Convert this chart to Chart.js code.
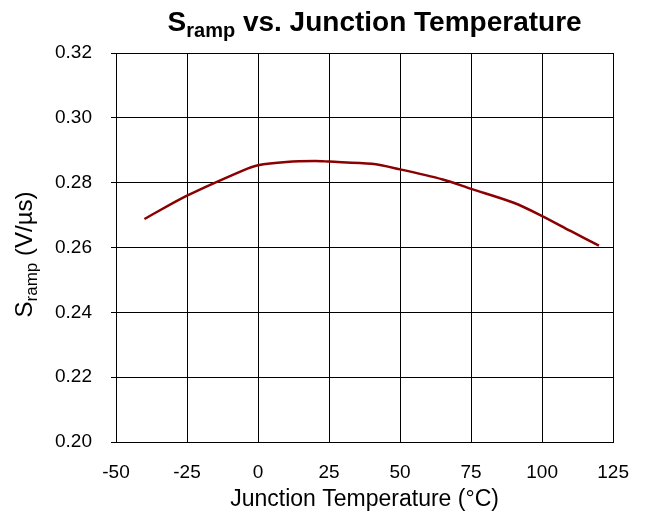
<!DOCTYPE html>
<html>
<head>
<meta charset="utf-8">
<script src="https://cdn.jsdelivr.net/npm/chart.js@4"></script>
<style>
  html, body { margin: 0; padding: 0; background: #fff; }
  #wrap { width: 648px; height: 518px; }
</style>
</head>
<body>
<div id="wrap"><canvas id="srampChart"></canvas></div>
<script>
// Data
const temperatures = [-40, -25, -5, 0, 10, 20, 25, 40, 50, 65, 75, 90, 100, 110, 120];
const srampValues = [0.2688, 0.2760, 0.2839, 0.2854, 0.2864, 0.2867, 0.2865, 0.2858, 0.2841, 0.2810, 0.2781, 0.2738, 0.2697, 0.2651, 0.2606];
const xTicks = [-50, -25, 0, 25, 50, 75, 100, 125];
const yTicks = [0.20, 0.22, 0.24, 0.26, 0.28, 0.30, 0.32];

const FONT = '"Liberation Sans", Arial, sans-serif';

// draws main text + subscript + rest, starting at x (left), baseline y
function drawSubText(ctx, x, y, main, sub, rest, size, subSize, weight) {
    ctx.font = weight + ' ' + size + 'px ' + FONT;
    ctx.fillText(main, x, y);
    let w = ctx.measureText(main).width;
    ctx.font = weight + ' ' + subSize + 'px ' + FONT;
    ctx.fillText(sub, x + w, y + size * 0.2);
    w += ctx.measureText(sub).width;
    ctx.font = weight + ' ' + size + 'px ' + FONT;
    ctx.fillText(rest, x + w, y);
    return w + ctx.measureText(rest).width;
}

function measureSubText(ctx, main, sub, rest, size, subSize, weight) {
    ctx.font = weight + ' ' + size + 'px ' + FONT;
    let w = ctx.measureText(main).width + ctx.measureText(rest).width;
    ctx.font = weight + ' ' + subSize + 'px ' + FONT;
    return w + ctx.measureText(sub).width;
}

const labelsPlugin = {
    id: 'labelsPlugin',
    afterDraw(chart) {
        const ctx = chart.ctx;
        const area = chart.chartArea;
        ctx.save();
        ctx.fillStyle = '#000';
        ctx.textBaseline = 'alphabetic';
        ctx.textAlign = 'left';

        // title
        const tw = measureSubText(ctx, 'S', 'ramp', ' vs. Junction Temperature', 28, 20, 'bold');
        const tx = (area.left + area.right) / 2 + 10 - tw / 2;
        drawSubText(ctx, tx, 31, 'S', 'ramp', ' vs. Junction Temperature', 28, 20, 'bold');

        // y axis title
        const yw = measureSubText(ctx, 'S', 'ramp', ' (V/\u00b5s)', 24, 17, 'normal');
        ctx.translate(32, (area.top + area.bottom) / 2 + 7);
        ctx.rotate(-Math.PI / 2);
        drawSubText(ctx, -yw / 2, 0, 'S', 'ramp', ' (V/\u00b5s)', 24, 17, 'normal');
        ctx.restore();
    }
};

function initSrampChart() {
    const ctx = document.getElementById('srampChart').getContext('2d');

    const chart = new Chart(ctx, {
        type: 'line',
        data: {
            datasets: [{
                label: 'Sramp',
                data: temperatures.map((t, i) => ({ x: t, y: srampValues[i] })),
                borderColor: '#8b0000',
                borderWidth: 2.5,
                tension: 0.3,
                pointRadius: 0,
                fill: false
            }]
        },
        options: {
            responsive: true,
            maintainAspectRatio: false,
            animation: false,
            layout: {
                padding: { top: 53, right: 34, left: 0, bottom: 0 }
            },
            scales: {
                x: {
                    type: 'linear',
                    min: -50,
                    max: 125,
                    afterBuildTicks: function(scale) {
                        scale.ticks = xTicks.map(v => ({ value: v }));
                    },
                    afterFit: function(scale) {
                        scale.height = 76;
                    },
                    ticks: {
                        color: '#000',
                        font: { family: FONT, size: 19 },
                        padding: 19,
                        maxRotation: 0
                    },
                    grid: {
                        color: '#000',
                        lineWidth: 1,
                        drawTicks: false
                    },
                    border: { color: '#000', width: 1 },
                    title: {
                        display: true,
                        text: 'Junction Temperature (\u00b0C)',
                        color: '#000',
                        font: { family: FONT, size: 23 },
                        padding: { top: 0, bottom: 5 }
                    }
                },
                y: {
                    min: 0.20,
                    max: 0.32,
                    afterBuildTicks: function(scale) {
                        scale.ticks = yTicks.map(v => ({ value: v }));
                    },
                    afterFit: function(scale) {
                        scale.width = 116;
                    },
                    ticks: {
                        color: '#000',
                        font: { family: FONT, size: 19 },
                        padding: 19,
                        callback: function(value) {
                            return value.toFixed(2);
                        }
                    },
                    grid: {
                        color: '#000',
                        lineWidth: 1,
                        tickLength: 5
                    },
                    border: { color: '#000', width: 1 }
                }
            },
            plugins: {
                legend: { display: false },
                tooltip: { enabled: false }
            }
        },
        plugins: [labelsPlugin]
    });
}

document.addEventListener('DOMContentLoaded', function() {
    initSrampChart();
});
</script>
</body>
</html>
